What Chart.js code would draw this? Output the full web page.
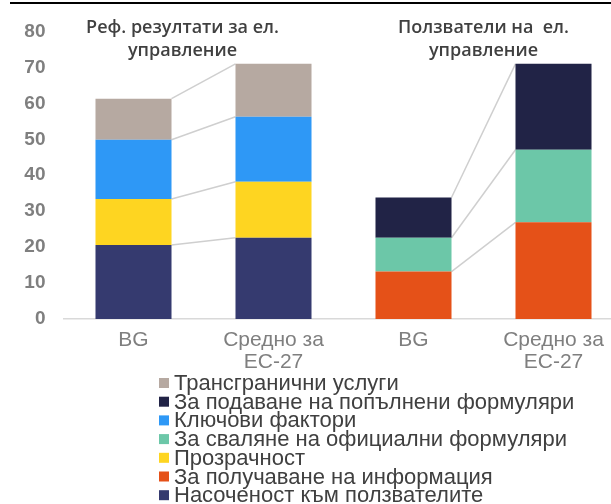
<!DOCTYPE html>
<html lang="bg">
<head>
  <meta charset="UTF-8" />
  <title>Електронно управление</title>
  <script src="https://cdn.jsdelivr.net/npm/chart.js"></script>
  <style>
    html, body {
      margin: 0;
      padding: 0;
      background: #fff;
      overflow: hidden;
    }

    #wrap {
      position: relative;
      width: 611px;
      height: 504px;
      overflow: hidden;
    }

    /* thin rule across the top */
    #wrap::before {
      content: '';
      position: absolute;
      left: 10px;
      right: 0;
      top: 2px;
      height: 2px;
      background: #000;
    }

    canvas {
      display: block;
    }
  </style>
</head>
<body>

<div id="wrap">
  <canvas id="egovChart" width="626" height="504"></canvas>
</div>

<script>
  const categories = [['BG'], ['Средно за', 'ЕС-27'], ['BG'], ['Средно за', 'ЕС-27']];
  const yTicks = [0, 10, 20, 30, 40, 50, 60, 70, 80];

  // left pair: reference results, right pair: users of e-government
  const userCentricity  = [20.6, 22.6, null, null];
  const gettingInfo     = [null, null, 13.2, 26.9];
  const transparency    = [12.8, 15.6, null, null];
  const downloadForms   = [null, null, 9.4, 20.2];
  const keyEnablers     = [16.5, 18.1, null, null];
  const submitForms     = [null, null, 11.2, 23.9];
  const crossBorder     = [11.4, 14.7, null, null];

  const groupTitles = [
    ['Реф. резултати за ел.', 'управление'],
    ['Ползватели на  ел.', 'управление']
  ];

  const datasets = [
    { label: 'Насоченост към ползвателите', data: userCentricity, backgroundColor: '#353a6f' },
    { label: 'За получаване на информация', data: gettingInfo, backgroundColor: '#e55118' },
    { label: 'Прозрачност', data: transparency, backgroundColor: '#fed521' },
    { label: 'За сваляне на официални формуляри', data: downloadForms, backgroundColor: '#6cc7a8' },
    { label: 'Ключови фактори', data: keyEnablers, backgroundColor: '#2e98f6' },
    { label: 'За подаване на попълнени формуляри', data: submitForms, backgroundColor: '#212346' },
    { label: 'Трансгранични услуги', data: crossBorder, backgroundColor: '#b6a9a1' }
  ];

  // grey lines joining the segment tops of BG and the EU average
  const connectorPlugin = {
    id: 'connectors',
    beforeDatasetsDraw(chart) {
      const ctx = chart.ctx;
      ctx.save();
      ctx.strokeStyle = '#cfcfcf';
      ctx.lineWidth = 1.5;
      chart.data.datasets.forEach((ds, i) => {
        const bars = chart.getDatasetMeta(i).data;
        [[0, 1], [2, 3]].forEach(([a, b]) => {
          if (ds.data[a] == null || ds.data[b] == null) return;
          const p = bars[a].getProps(['x', 'y', 'width'], true);
          const q = bars[b].getProps(['x', 'y', 'width'], true);
          ctx.beginPath();
          ctx.moveTo(p.x + p.width / 2, p.y);
          ctx.lineTo(q.x - q.width / 2, q.y);
          ctx.stroke();
        });
      });
      ctx.restore();
    }
  };

  // group headings and the single-column legend
  const textPlugin = {
    id: 'texts',
    afterDraw(chart) {
      const ctx = chart.ctx;
      const x = chart.scales.x;
      ctx.save();

      ctx.fillStyle = '#404040';
      ctx.font = '600 18px "Open Sans"';
      ctx.textAlign = 'center';
      ctx.textBaseline = 'middle';
      const x0 = x.getPixelForValue(0), x1 = x.getPixelForValue(1);
      const x2 = x.getPixelForValue(2), x3 = x.getPixelForValue(3);
      const centers = [x0 + (x1 - x0) * 0.35, (x2 + x3) / 2];
      groupTitles.forEach((lines, g) => {
        lines.forEach((line, k) => ctx.fillText(line, centers[g], 28 + k * 23));
      });

      ctx.textAlign = 'left';
      ctx.font = '22px "Liberation Sans", Arial, sans-serif';
      const items = chart.data.datasets.slice().reverse();
      items.forEach((ds, i) => {
        const y = 383 + i * 18.7;
        ctx.fillStyle = ds.backgroundColor;
        ctx.fillRect(159, y - 5, 10, 10);
        ctx.fillStyle = '#404040';
        ctx.fillText(ds.label, 174, y + 1);
      });

      ctx.restore();
    }
  };

  new Chart(document.getElementById('egovChart').getContext('2d'), {
    type: 'bar',
    data: { labels: categories, datasets: datasets },
    options: {
      responsive: false,
      animation: false,
      layout: { padding: { top: 31.5, right: 2.5, left: 0, bottom: 0 } },
      datasets: {
        bar: { categoryPercentage: 1, barPercentage: 0.543 }
      },
      plugins: {
        legend: { display: false },
        tooltip: { enabled: false }
      },
      scales: {
        x: {
          stacked: true,
          grid: { display: false, drawTicks: false },
          border: { display: true, color: '#d9d9d9', width: 1.5 },
          ticks: {
            padding: 10,
            color: '#7f7f7f',
            font: { family: '"Liberation Sans", Arial, sans-serif', size: 21, lineHeight: '22px' }
          },
          afterFit: s => { s.height = 185; }
        },
        y: {
          stacked: true,
          min: 0,
          max: 80,
          grid: { display: false, drawTicks: false },
          border: { display: false },
          afterBuildTicks: s => { s.ticks = yTicks.map(v => ({ value: v })); },
          ticks: {
            padding: 18,
            color: '#7f7f7f',
            font: { family: '"Liberation Sans", Arial, sans-serif', size: 19, weight: 'bold' }
          },
          afterFit: s => { s.width = 63.5; }
        }
      }
    },
    plugins: [connectorPlugin, textPlugin]
  });
</script>

</body>
</html>
